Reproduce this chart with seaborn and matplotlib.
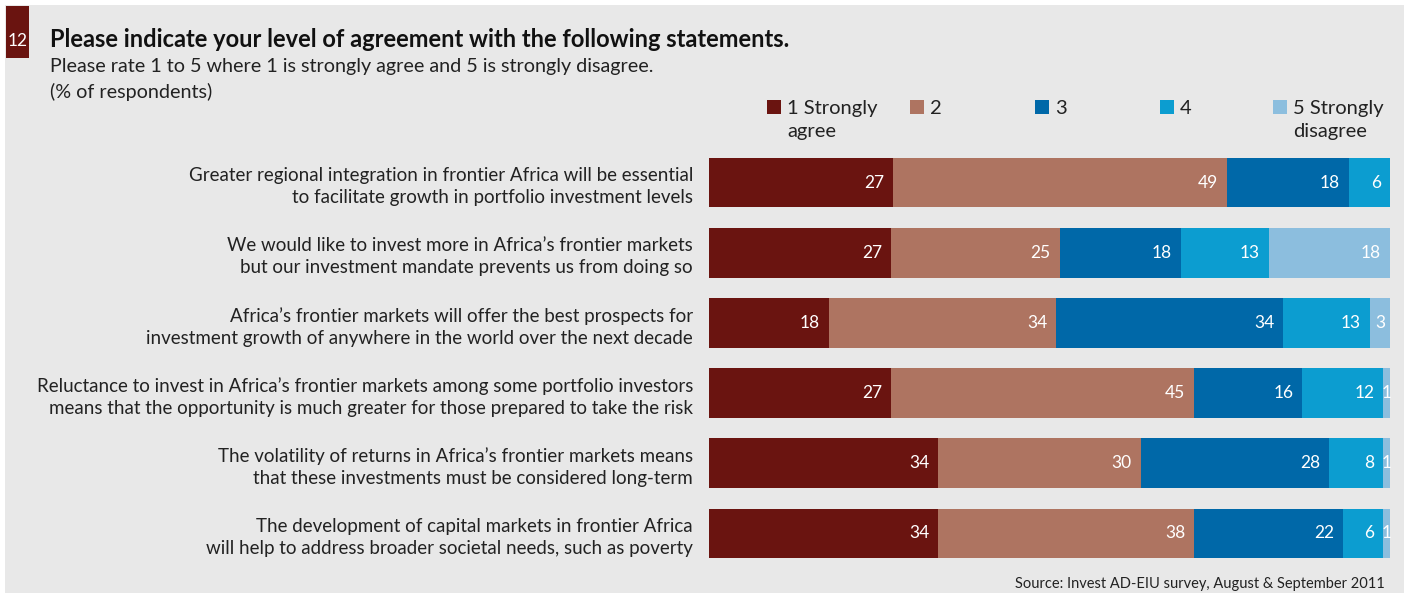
import matplotlib
matplotlib.use("Agg")
import matplotlib.pyplot as plt
from matplotlib.patches import Rectangle
import numpy as np
import pandas as pd
import seaborn as sns

# Survey statements and responses (% of respondents)
statements = [
    "Greater regional integration in frontier Africa will be essential\nto facilitate growth in portfolio investment levels",
    "We would like to invest more in Africa\u2019s frontier markets\nbut our investment mandate prevents us from doing so",
    "Africa\u2019s frontier markets will offer the best prospects for\ninvestment growth of anywhere in the world over the next decade",
    "Reluctance to invest in Africa\u2019s frontier markets among some portfolio investors\nmeans that the opportunity is much greater for those prepared to take the risk",
    "The volatility of returns in Africa\u2019s frontier markets means\nthat these investments must be considered long-term",
    "The development of capital markets in frontier Africa\nwill help to address broader societal needs, such as poverty",
]
levels = ["1 Strongly\nagree", "2", "3", "4", "5 Strongly\ndisagree"]
strongly_agree = [27, 27, 18, 27, 34, 34]
agree = [49, 25, 34, 45, 30, 38]
neutral = [18, 18, 34, 16, 28, 22]
disagree = [6, 13, 13, 12, 8, 6]
strongly_disagree = [0, 18, 3, 1, 1, 1]
colors = ["#6a1410", "#ae7461", "#0068a8", "#0c9dd0", "#8cbede"]

title = "Please indicate your level of agreement with the following statements."
subtitle = "Please rate 1 to 5 where 1 is strongly agree and 5 is strongly disagree."
unit_note = "(% of respondents)"
source = "Source: Invest AD-EIU survey, August & September 2011"
chart_no = "12"

BG = "#e8e8e8"
FONT = "Lato"

sns.set_theme(style="white")
plt.rcParams["font.family"] = [FONT, "DejaVu Sans"]

W, H = 1409, 598
fig = plt.figure(figsize=(W / 100, H / 100), dpi=100, facecolor="white")

def fx(px):
    return px / W

def fy(py):
    return 1 - py / H

# grey panel
fig.add_artist(Rectangle((fx(5), fy(593)), fx(1399), (593 - 5) / H,
                         transform=fig.transFigure, facecolor=BG, edgecolor="none", zorder=-10))
# chart number badge
fig.add_artist(Rectangle((fx(6), fy(58)), fx(23), 52 / H,
                         transform=fig.transFigure, facecolor="#6a1410", edgecolor="none", zorder=-5))
fig.text(fx(17.5), fy(46), chart_no, color="white", fontsize=12.5, ha="center", va="baseline")

fig.text(fx(50), fy(47), title, fontsize=17, fontweight="bold", color="#111111", va="baseline")
fig.text(fx(50), fy(72), subtitle, fontsize=14.2, color="#222222", va="baseline")
fig.text(fx(50), fy(98), unit_note, fontsize=14.2, color="#222222", va="baseline")
fig.text(fx(1385), fy(588), source, fontsize=10.5, color="#222222", ha="right", va="baseline")

# data frame in long form
series = [strongly_agree, agree, neutral, disagree, strongly_disagree]
df = pd.DataFrame({"statement": statements})
for lvl, vals in zip(levels, series):
    df[lvl] = vals
totals = df[levels].sum(axis=1)
shares = df[levels].div(totals, axis=0) * 100
cum = shares.cumsum(axis=1)

ax = fig.add_axes([fx(709), 1 - 568.5 / H, fx(1390 - 709), 421 / H])
ax.set_facecolor(BG)

# stacked bars: draw cumulative totals from the widest down
for i in range(len(levels) - 1, -1, -1):
    sns.barplot(x=cum[levels[i]].values, y=df["statement"], orient="h",
                color=colors[i], width=0.71, saturation=1, ax=ax, linewidth=0)

ax.set_xlim(0, 100)
ax.set_ylim(5.5, -0.5)
for s in ax.spines.values():
    s.set_visible(False)
ax.set_xticks([])
ax.set_xlabel("")
ax.set_ylabel("")
ax.tick_params(axis="y", length=0, pad=11.5)
ax.set_yticks(range(len(statements)))
ax.set_yticklabels(statements, fontsize=13.5, color="#222222", ha="right",
                   linespacing=1.35)

# value labels
px_per_unit = (1390 - 709) / 100
for r in range(len(statements)):
    for i, lvl in enumerate(levels):
        v = df.loc[r, lvl]
        if v <= 0:
            continue
        end = cum.loc[r, lvl]
        start = end - shares.loc[r, lvl]
        if v < 5:
            ax.text((start + end) / 2, r, str(v), ha="center", va="center",
                    color="white", fontsize=12.5)
        else:
            ax.text(end - 9 / px_per_unit, r, str(v), ha="right", va="center",
                    color="white", fontsize=12.5)

# legend
leg_x = [767, 910, 1035, 1160, 1273]
for x, lab, c in zip(leg_x, levels, colors):
    fig.add_artist(Rectangle((fx(x), fy(114)), fx(14), 14 / H,
                             transform=fig.transFigure, facecolor=c, edgecolor="none"))
    fig.text(fx(x + 20), fy(100), lab, fontsize=14.5, color="#222222",
             ha="left", va="top", linespacing=1.45)

fig.savefig("out.png", dpi=100, facecolor="white")
